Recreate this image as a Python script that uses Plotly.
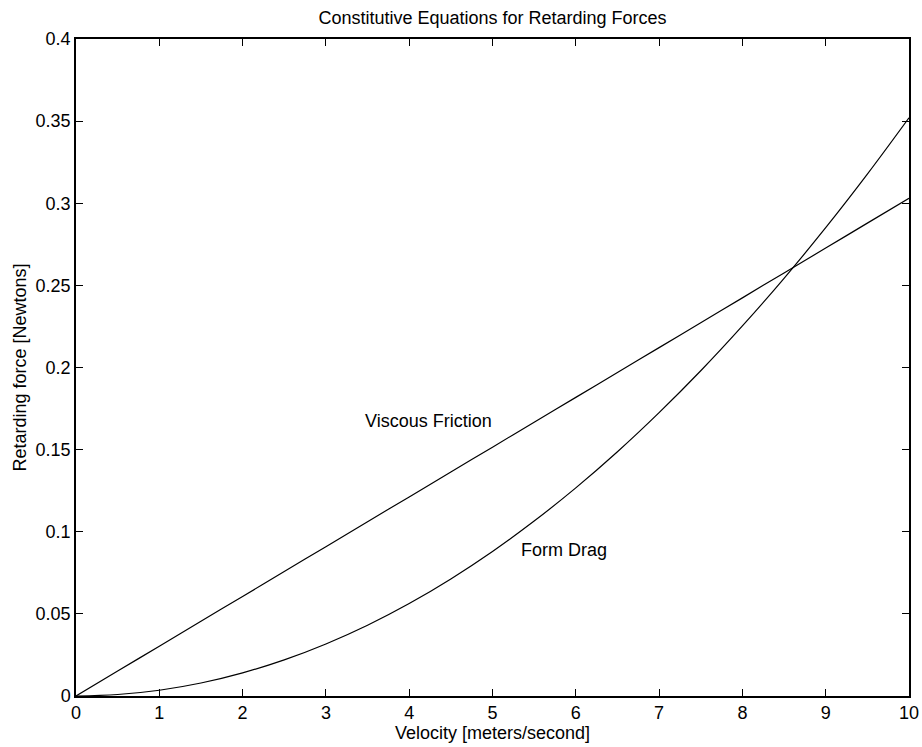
import plotly.graph_objects as go

velocity = [0, 0.5, 1, 1.5, 2, 2.5, 3, 3.5, 4, 4.5, 5, 5.5, 6, 6.5, 7, 7.5, 8, 8.5, 9, 9.5, 10]
viscous = [0, 0.0152, 0.0303, 0.0455, 0.0606, 0.0758, 0.0909, 0.1061, 0.1212, 0.1364, 0.1515,
           0.1667, 0.1818, 0.197, 0.2121, 0.2273, 0.2424, 0.2576, 0.2727, 0.2879, 0.303]
form_drag = [0, 0.0009, 0.0035, 0.0079, 0.0141, 0.022, 0.0317, 0.0431, 0.0563, 0.0713, 0.088,
             0.1065, 0.1267, 0.1487, 0.1725, 0.198, 0.2253, 0.2543, 0.2851, 0.3177, 0.352]
x_ticks = [0, 1, 2, 3, 4, 5, 6, 7, 8, 9, 10]
y_ticks = [0, 0.05, 0.1, 0.15, 0.2, 0.25, 0.3, 0.35, 0.4]
y_tick_labels = ["0", "0.05", "0.1", "0.15", "0.2", "0.25", "0.3", "0.35", "0.4"]

font = "Liberation Sans, Arial, Helvetica, sans-serif"
fs = 18

fig = go.Figure()
fig.add_trace(go.Scatter(x=velocity, y=viscous, mode="lines",
                         line=dict(color="black", width=1.2, shape="spline"), showlegend=False))
fig.add_trace(go.Scatter(x=velocity, y=form_drag, mode="lines",
                         line=dict(color="black", width=1.2, shape="spline"), showlegend=False))

fig.add_annotation(x=3.45, y=0.1675, text="Viscous Friction", showarrow=False,
                   xanchor="left", yanchor="middle", font=dict(size=fs, color="black", family=font))
fig.add_annotation(x=5.32, y=0.0890, text="Form Drag", showarrow=False,
                   xanchor="left", yanchor="middle", font=dict(size=fs, color="black", family=font))

axis_common = dict(showgrid=False, zeroline=False, showline=True, linecolor="black", linewidth=1.5,
                   mirror="ticks", ticks="inside", ticklen=7, tickcolor="black", tickwidth=1,
                   automargin=False,
                   tickfont=dict(size=fs, color="black", family=font))

fig.update_layout(
    width=922, height=747,
    paper_bgcolor="white", plot_bgcolor="white",
    margin=dict(l=76, r=13, t=39, b=51),
    title=dict(text="Constitutive Equations for Retarding Forces", x=0.5, xref="paper", xanchor="center",
               y=1 - 18 / 747, yanchor="middle", font=dict(size=fs, color="black", family=font)),
    xaxis=dict(range=[0, 10], tickvals=x_ticks, title=dict(text="Velocity [meters/second]", standoff=2,
               font=dict(size=fs, color="black", family=font)), **axis_common),
    yaxis=dict(range=[0, 0.4], tickvals=y_ticks, ticktext=y_tick_labels,
               title=dict(text="Retarding force [Newtons]", standoff=4,
                          font=dict(size=fs, color="black", family=font)), **axis_common),
)

fig.write_html("out.html", config={"displayModeBar": False},
               post_script="document.body.style.margin='0';")
